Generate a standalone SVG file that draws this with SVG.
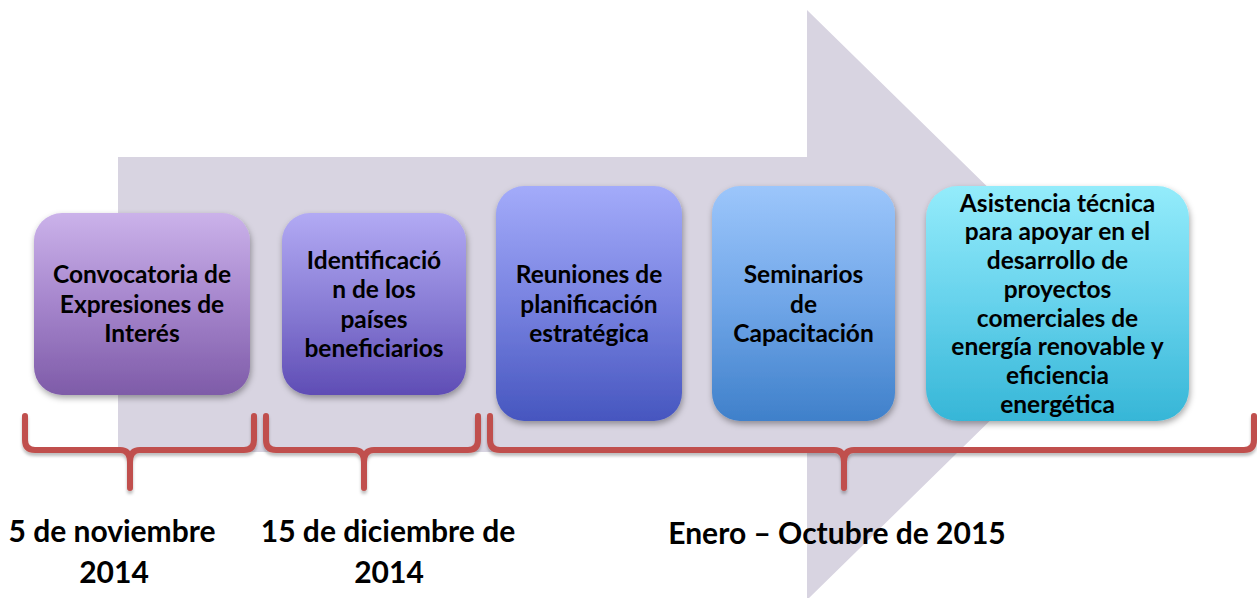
<svg xmlns="http://www.w3.org/2000/svg" width="1257" height="598" viewBox="0 0 1257 598">
<style>
.t{font-family:Lato,"Liberation Sans",sans-serif;font-weight:bold;font-size:24.5px;fill:#000;text-anchor:middle}
.d{font-family:Lato,"Liberation Sans",sans-serif;font-weight:bold;font-size:30px;fill:#000;text-anchor:middle}
.br{fill:none;stroke:#c0504d;stroke-width:6;stroke-linecap:round;stroke-linejoin:round;filter:url(#sh2)}
</style>
<defs>
<filter id="sh" x="-10%" y="-10%" width="125%" height="130%">
<feDropShadow dx="1" dy="3" stdDeviation="3" flood-color="#000" flood-opacity="0.35"/>
</filter>
<filter id="sh2" x="-5%" y="-20%" width="110%" height="150%">
<feDropShadow dx="0" dy="3" stdDeviation="1.5" flood-color="#000" flood-opacity="0.25"/>
</filter>
<linearGradient id="g1" x1="0" y1="0" x2="0" y2="1"><stop offset="0" stop-color="#cbb2ea"/><stop offset="0.5" stop-color="#a585cc"/><stop offset="1" stop-color="#7e5ba8"/></linearGradient>
<linearGradient id="g2" x1="0" y1="0" x2="0" y2="1"><stop offset="0" stop-color="#b2aaf4"/><stop offset="0.5" stop-color="#8a7ed6"/><stop offset="1" stop-color="#5f4db5"/></linearGradient>
<linearGradient id="g3" x1="0" y1="0" x2="0" y2="1"><stop offset="0" stop-color="#a3abfa"/><stop offset="0.5" stop-color="#7882e0"/><stop offset="1" stop-color="#4656bf"/></linearGradient>
<linearGradient id="g4" x1="0" y1="0" x2="0" y2="1"><stop offset="0" stop-color="#9cc6fb"/><stop offset="0.5" stop-color="#70a6e8"/><stop offset="1" stop-color="#3f80ca"/></linearGradient>
<linearGradient id="g5" x1="0" y1="0" x2="0" y2="1"><stop offset="0" stop-color="#94ecfb"/><stop offset="0.5" stop-color="#66d2ec"/><stop offset="1" stop-color="#36b6d7"/></linearGradient>
</defs>
<g id="arrow">
<polygon points="118,157 807,157 807,10 1108,305 807,600 807,452 118,452" fill="#d8d4e1"/>
</g>
<g id="connectors">
<path class="br" d="M25 416 V440 Q25 450 35 450 H120 Q130 450 130 462 V488 M130 462 Q130 450 140 450 H244 Q254 450 254 440 V416"/>
<path class="br" d="M266 416 V440 Q266 450 276 450 H354 Q364 450 364 462 V488 M364 462 Q364 450 374 450 H468 Q478 450 478 440 V416"/>
<path class="br" d="M490 416 V440 Q490 450 500 450 H834 Q844 450 844 462 V488 M844 462 Q844 450 854 450 H1244 Q1254 450 1254 440 V416"/>
</g>
<g id="n1">
<rect x="34" y="213" width="216" height="182" rx="28" fill="url(#g1)" filter="url(#sh)"/>
<text class="t" x="142" y="283">Convocatoria de</text>
<text class="t" x="142" y="313">Expresiones de</text>
<text class="t" x="142" y="342">Interés</text>
</g>
<g id="n2">
<rect x="282" y="213" width="184" height="182" rx="28" fill="url(#g2)" filter="url(#sh)"/>
<text class="t" x="374" y="269">Identificació</text>
<text class="t" x="374" y="298">n de los</text>
<text class="t" x="374" y="328">países</text>
<text class="t" x="374" y="357">beneficiarios</text>
</g>
<g id="n3">
<rect x="496" y="186" width="186" height="235" rx="28" fill="url(#g3)" filter="url(#sh)"/>
<text class="t" x="589" y="283">Reuniones de</text>
<text class="t" x="589" y="313">planificación</text>
<text class="t" x="589" y="342">estratégica</text>
</g>
<g id="n4">
<rect x="712" y="186" width="183" height="235" rx="28" fill="url(#g4)" filter="url(#sh)"/>
<text class="t" x="803.5" y="283">Seminarios</text>
<text class="t" x="803.5" y="313">de</text>
<text class="t" x="803.5" y="342">Capacitación</text>
</g>
<g id="n5">
<rect x="926" y="186" width="263" height="235" rx="32" fill="url(#g5)" filter="url(#sh)"/>
<text class="t" x="1057.5" y="212">Asistencia técnica</text>
<text class="t" x="1057.5" y="240">para apoyar en el</text>
<text class="t" x="1057.5" y="269">desarrollo de</text>
<text class="t" x="1057.5" y="298">proyectos</text>
<text class="t" x="1057.5" y="327">comerciales de</text>
<text class="t" x="1057.5" y="355">energía renovable y</text>
<text class="t" x="1057.5" y="384">eficiencia</text>
<text class="t" x="1057.5" y="413">energética</text>
</g>
<g id="labels">
<text class="d" x="112" y="542">5 de noviembre</text>
<text class="d" x="114" y="583">2014</text>
<text class="d" x="388" y="542">15 de diciembre de</text>
<text class="d" x="389" y="583">2014</text>
<text class="d" x="837" y="544">Enero – Octubre de 2015</text>
</g>
</svg>
